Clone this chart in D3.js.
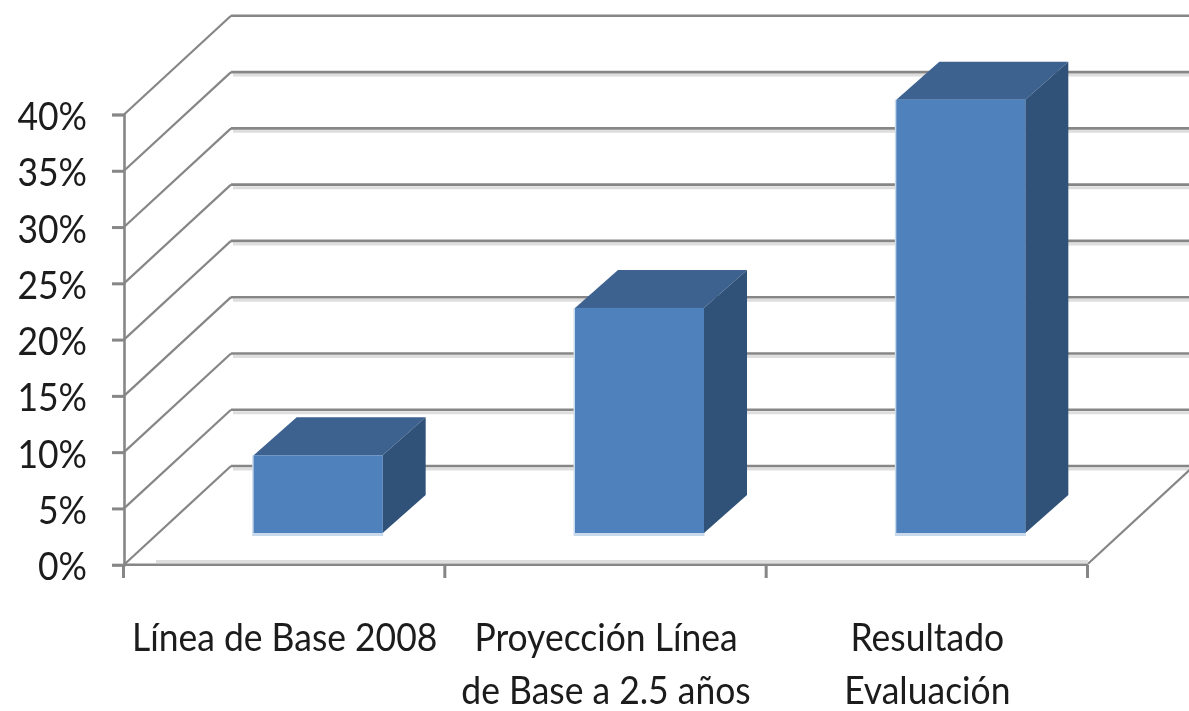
<!DOCTYPE html>
<html><head><meta charset="utf-8">
<script src="https://cdnjs.cloudflare.com/ajax/libs/d3/7.8.5/d3.min.js"></script>
<style>html,body{margin:0;padding:0;background:#fff}svg{display:block}
text{font-family:Lato,"Open Sans",sans-serif;fill:#1a1a1a}</style></head>
<body><svg id="c" width="1189" height="711"><defs><filter id="soft" x="-5%" y="-20%" width="110%" height="140%"><feGaussianBlur stdDeviation="0.45"/></filter></defs></svg>
<script>
const categories = ["Línea de Base 2008", "Proyección Línea|de Base a 2.5 años", "Resultado|Evaluación"];
const values = [6.9, 20, 38.5];
const yTicks = [0, 5, 10, 15, 20, 25, 30, 35, 40];

const W = 1189, H = 711;
const svg = d3.select("#c").attr("viewBox", [0, 0, W, H]);
const xs = d3.scaleBand().domain(categories).range([124, 1088]);
const ys = d3.scaleLinear().domain([0, 40]).range([564.7, 114.5]);
const wall = { dx: 107, dy: -98.7 };
const inset = { dx: 33.5, dy: -31.7 };
const depth = { dx: 43, dy: -38 };
const barW = 129;
const GRID = "#868686";
const FONT = 39, SX = 0.91;

const g = svg.append("g");

// back-wall gridline shadows and lines
g.selectAll("line.shadow").data(yTicks.slice(0, -1)).join("line").attr("class", "shadow")
  .attr("x1", 124 + wall.dx + 2).attr("x2", W)
  .attr("y1", d => ys(d) + wall.dy + 3).attr("y2", d => ys(d) + wall.dy + 3)
  .attr("stroke", "#dedede").attr("stroke-width", 3);
g.selectAll("line.grid").data(yTicks).join("line").attr("class", "grid")
  .attr("x1", 124 + wall.dx).attr("x2", W)
  .attr("y1", d => ys(d) + wall.dy).attr("y2", d => ys(d) + wall.dy)
  .attr("stroke", GRID).attr("stroke-width", 2.6);
// side-wall diagonals
g.selectAll("line.diag").data(yTicks).join("line").attr("class", "diag")
  .attr("x1", 124).attr("y1", d => ys(d))
  .attr("x2", 124 + wall.dx).attr("y2", d => ys(d) + wall.dy)
  .attr("stroke", GRID).attr("stroke-width", 2.2);
// floor right edge
g.append("line").attr("x1", 1088).attr("y1", ys(0) - 1)
  .attr("x2", 1088 + wall.dx).attr("y2", ys(0) + wall.dy - 1)
  .attr("stroke", GRID).attr("stroke-width", 2.2);
// floor front edge
g.append("line").attr("x1", 156).attr("x2", 1088).attr("y1", 561.5).attr("y2", 561.5)
  .attr("stroke", "#dedede").attr("stroke-width", 3);
g.append("line").attr("x1", 124).attr("x2", 1088).attr("y1", ys(0)).attr("y2", ys(0))
  .attr("stroke", GRID).attr("stroke-width", 2.6);

// value axis
const yAxis = d3.axisLeft(ys).tickValues(yTicks).tickSize(12).tickPadding(26)
  .tickFormat(d => d + "%");
const ya = svg.append("g").attr("transform", "translate(124,0)").call(yAxis);
ya.select(".domain").attr("stroke", GRID).attr("stroke-width", 2.6);
ya.selectAll(".tick line").attr("stroke", GRID).attr("stroke-width", 3);
ya.selectAll(".tick text").attr("font-size", FONT).attr("dy", 15).attr("font-weight", 400)
  .attr("x", -37 / SX).attr("transform", `scale(${SX},1)`)
  .attr("filter", "url(#soft)")
  .style("font-family", "Lato,sans-serif").attr("fill", "#1a1a1a");

// category ticks
const bounds = categories.map(c => xs(c)).concat([xs.range()[1]]);
g.selectAll("line.ct").data(bounds).join("line").attr("class", "ct")
  .attr("x1", d => d - 0.5).attr("x2", d => d - 0.5)
  .attr("y1", ys(0)).attr("y2", 578)
  .attr("stroke", GRID).attr("stroke-width", 3);

// bars
const bars = svg.selectAll("g.bar").data(categories.map((c, i) => ({ c, v: values[i] }))).join("g").attr("class", "bar");
const fx = d => xs(d.c) + xs.bandwidth() / 2 + inset.dx - barW / 2;
const base = ys(0) + inset.dy;
const barTop = d => ys(d.v) + inset.dy;
const pts = a => a.map(p => p.join(",")).join(" ");
bars.append("rect").attr("x", d => fx(d) - 1.5).attr("y", d => barTop(d))
  .attr("width", barW + 2).attr("height", d => base - barTop(d) + 3).attr("fill", "#c9d9ec");
bars.append("polygon").attr("fill", "#3E6290").attr("points", d => pts([
  [fx(d), barTop(d)], [fx(d) + barW, barTop(d)],
  [fx(d) + barW + depth.dx, barTop(d) + depth.dy], [fx(d) + depth.dx, barTop(d) + depth.dy]]));
bars.append("polygon").attr("fill", "#315278").attr("points", d => pts([
  [fx(d) + barW, barTop(d)], [fx(d) + barW + depth.dx, barTop(d) + depth.dy],
  [fx(d) + barW + depth.dx, base + depth.dy], [fx(d) + barW, base]]));
bars.append("rect").attr("x", d => fx(d)).attr("y", d => barTop(d))
  .attr("width", barW).attr("height", d => base - barTop(d)).attr("fill", "#4F81BD");

// category labels
const labels = svg.selectAll("text.cat").data(categories).join("text")
  .attr("class", "cat").attr("text-anchor", "middle").attr("font-size", FONT).attr("font-weight", 400)
  .attr("transform", `scale(${SX},1)`).attr("filter", "url(#soft)");
labels.selectAll("tspan").data(d => d.split("|").map(t => ({ t, c: d }))).join("tspan")
  .attr("x", d => (xs(d.c) + xs.bandwidth() / 2) / SX)
  .attr("y", (d, i) => 651 + i * 53)
  .text(d => d.t);
</script></body></html>
